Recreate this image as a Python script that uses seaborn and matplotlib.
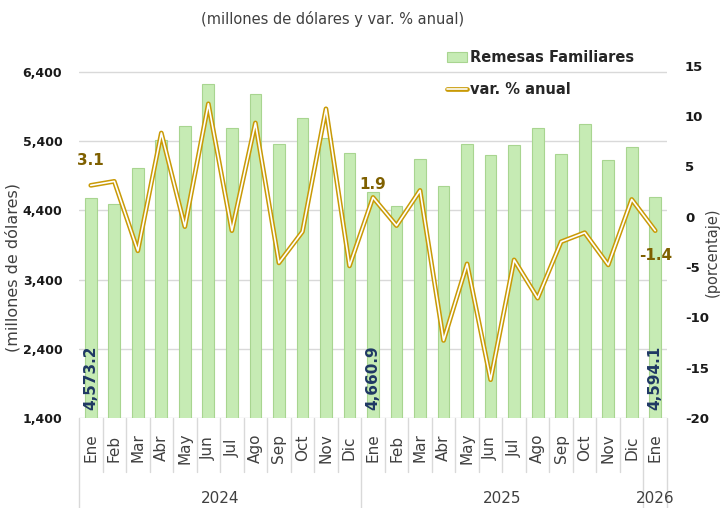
import numpy as np
import pandas as pd
import matplotlib
matplotlib.use("Agg")
import matplotlib.pyplot as plt
import matplotlib.patheffects as pe
import matplotlib.transforms as mtransforms
import seaborn as sns

# datos
meses = ['Ene', 'Feb', 'Mar', 'Abr', 'May', 'Jun', 'Jul', 'Ago', 'Sep', 'Oct', 'Nov', 'Dic',
         'Ene', 'Feb', 'Mar', 'Abr', 'May', 'Jun', 'Jul', 'Ago', 'Sep', 'Oct', 'Nov', 'Dic',
         'Ene']
anios = [2024] * 12 + [2025] * 12 + [2026]
remesas = [4573.2, 4498, 5018, 5422, 5624, 6220, 5595, 6085, 5364, 5739, 5440, 5229,
           4660.9, 4459, 5147, 4757, 5354, 5205, 5349, 5594, 5219, 5642, 5123, 5315,
           4594.1]
var_anual = [3.1, 3.5, -3.4, 8.3, -1.0, 11.2, -1.4, 9.3, -4.6, -1.5, 10.7, -4.9,
             1.9, -0.9, 2.6, -12.3, -4.7, -16.2, -4.3, -8.1, -2.5, -1.6, -4.8, 1.7,
             -1.4]
etiquetados = [0, 12, 24]
ticks_izq = [1400, 2400, 3400, 4400, 5400, 6400]
ticks_der = [-20, -15, -10, -5, 0, 5, 10, 15]

verde = '#C6EBB4'
borde_verde = '#A8D590'
dorado = '#C99A06'
cafe = '#7F6000'
azul = '#1F3864'

sns.set_theme(style='white')
plt.rcParams['font.family'] = ['DejaVu Sans']

df = pd.DataFrame({'periodo': [f'{m}-{a}' for m, a in zip(meses, anios)],
                   'remesas': remesas, 'var': var_anual})
n = len(df)
pos = np.arange(n)

fig = plt.figure(figsize=(7.21, 5.08), dpi=100)
ax = fig.add_axes([79 / 721, 1 - 418 / 508, 588 / 721, 353 / 508])

sns.barplot(data=df, x='periodo', y='remesas', order=df['periodo'], color=verde,
            saturation=1, width=0.5, edgecolor=borde_verde, linewidth=0.8, ax=ax,
            label='Remesas Familiares')
if ax.get_legend() is not None:
    ax.get_legend().remove()
ax.set_xlim(-0.5, n - 0.5)
ax.set_ylim(1400, 6500)
ax.set_yticks(ticks_izq)
ax.set_yticklabels([f'{v:,}' for v in ticks_izq], fontsize=9, fontweight='bold',
                   color='#1a1a1a')
ax.tick_params(axis='y', length=0, pad=12)
ax.tick_params(axis='x', length=0, labelbottom=False)
ax.grid(axis='y', color='#D9D9D9', lw=1)
ax.set_axisbelow(True)
ax.set_xlabel('')
ax.set_ylabel('')
for s in ax.spines.values():
    s.set_visible(False)

# etiquetas de las barras
for i in etiquetados:
    ax.text(pos[i], 1400 + 110, f'{remesas[i]:,.1f}', rotation=90, ha='center',
            va='bottom', color=azul, fontsize=11, fontweight='bold')

# eje secundario
ax2 = ax.twinx()
sns.lineplot(x=pos, y=var_anual, ax=ax2, color='white', lw=1.2,
             path_effects=[pe.Stroke(linewidth=3.4, foreground=dorado), pe.Normal()],
             label='var. % anual', legend=False)
ax2.set_ylim(-20, 15.05)
ax2.set_yticks(ticks_der)
ax2.set_yticklabels([str(v) for v in ticks_der], fontsize=9.5, fontweight='bold',
                    color='#1a1a1a')
ax2.tick_params(axis='y', length=0, pad=13)
ax2.set_ylabel('')
for s in ax2.spines.values():
    s.set_visible(False)

offs = {0: (0, 18), 12: (0, 9), 24: (0, -18)}
for i in etiquetados:
    ax2.annotate(f'{var_anual[i]:.1f}', (pos[i], var_anual[i]), xytext=offs[i],
                 textcoords='offset points', ha='center', va='center',
                 color=cafe, fontsize=11, fontweight='bold')

# eje x de dos niveles
trans = mtransforms.blended_transform_factory(ax.transData, ax.transAxes)
for i in range(n):
    ax.text(pos[i], -0.085, meses[i], rotation=90, ha='center', va='center',
            fontsize=11, color='#404040', transform=trans)
for b in range(n + 1):
    x = b - 0.5
    fin = -0.255 if b in (0, 12, 24, 25) else -0.153
    ax.plot([x, x], [0, fin], color='#D9D9D9', lw=1, transform=trans, clip_on=False)
for a in sorted(set(anios)):
    idx = [i for i in range(n) if anios[i] == a]
    ax.text(np.mean(idx), -0.227, str(a), ha='center', va='center', fontsize=11,
            color='#404040', transform=trans)

# textos
fig.text(333 / 721, 1 - 19 / 508, '(millones de dólares y var. % anual)', ha='center',
         va='center', fontsize=10.5, color='#404040')
fig.text(13 / 721, 1 - 268 / 508, '(millones de dólares)', rotation=90, ha='center',
         va='center', fontsize=11.5, color='#404040')
fig.text(712 / 721, 1 - 252 / 508, '(porcentaje)', rotation=90, ha='center',
         va='center', fontsize=10.5, color='#404040')

h1, l1 = ax.get_legend_handles_labels()
h2, l2 = ax2.get_legend_handles_labels()
fig.legend(h1 + h2, l1 + l2, loc='upper left', bbox_to_anchor=(447 / 721, 1 - 50 / 508),
           frameon=False, borderpad=0, borderaxespad=0, handlelength=1.4,
           handletextpad=0.2, labelspacing=1.2,
           prop={'size': 10.5, 'weight': 'bold'})

fig.savefig('out.png', dpi=100)
